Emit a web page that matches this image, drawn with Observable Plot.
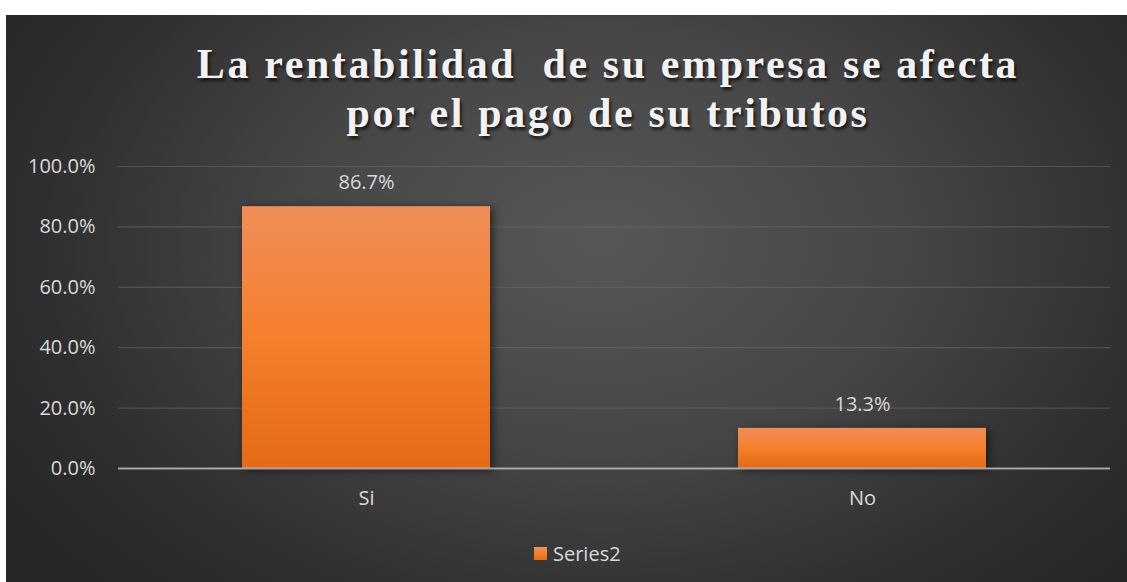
<!DOCTYPE html>
<html>
<head>
<meta charset="utf-8">
<script src="https://cdn.jsdelivr.net/npm/d3@7"></script>
<script src="https://cdn.jsdelivr.net/npm/@observablehq/plot@0.6"></script>
<style>
  html, body { margin: 0; padding: 0; background: #ffffff; }
  #wrap { position: relative; width: 1127px; height: 582px; overflow: hidden; }
  #bg { position: absolute; left: 6px; top: 15px; width: 1121px; height: 567px;
        background: radial-gradient(ellipse 62% 85% at 53% 40%, #575757 0%, #454545 45%, #2f2f2f 80%, #272727 100%); }
  .title { position: absolute; left: 0; width: 1216px; text-align: center;
           font-family: "Liberation Serif", "Times New Roman", serif; font-weight: bold;
           font-size: 42px; line-height: 49px; letter-spacing: 2.6px; color: #f2f2f2;
           text-shadow: 2px 3px 3px rgba(0,0,0,0.65); white-space: pre; }
  #chart { position: absolute; left: 0; top: 145px; }
  #legend { position: absolute; left: 534px; top: 539px; height: 28px; display: flex; align-items: center;
            font-family: "Open Sans", sans-serif; font-size: 20px; color: #d9d9d9; }
  #legend .sw { width: 13px; height: 13px; margin-right: 6px;
                background: linear-gradient(#f0915a, #f47f2c 50%, #e46c1a); }
</style>
</head>
<body>
<div id="wrap">
  <div id="bg"></div>
  <div class="title" style="top:40px">La rentabilidad  de su empresa se afecta</div>
  <div class="title" style="top:89px">por el pago de su tributos</div>
  <div id="chart"></div>
  <div id="legend"><div class="sw"></div><span>Series2</span></div>
</div>
<script>
const categories = ["Si", "No"];
const values = [0.867, 0.133];
const yTicks = [0, 0.2, 0.4, 0.6, 0.8, 1.0];
const seriesName = "Series2";

const data = categories.map((c, i) => ({category: c, value: values[i]}));
const fmt = d => (d * 100).toFixed(1) + "%";

const chart = Plot.plot({
  width: 1127,
  height: 380,
  marginLeft: 118,
  marginRight: 17,
  marginTop: 21,
  marginBottom: 57,
  style: {background: "transparent", fontFamily: "Open Sans, sans-serif", fontSize: "20px", color: "#d9d9d9", overflow: "visible"},
  x: {domain: categories, paddingInner: 0.5, paddingOuter: 0.25},
  y: {domain: [0, 1]},
  marks: [
    Plot.gridY(yTicks, {stroke: "#6a6a6a", strokeOpacity: 0.55, strokeWidth: 1.2}),
    Plot.axisY(yTicks, {tickSize: 0, tickPadding: 23, tickFormat: fmt, label: null, fill: "#d9d9d9", fontSize: 20}),
    Plot.axisX({tickSize: 0, tickPadding: 22, label: null, fill: "#d9d9d9", fontSize: 20}),
    Plot.barY(data, {x: "category", y: "value", fill: "#f47f2c", className: "bars"}),
    Plot.ruleY([0], {stroke: "#c8c8c8", strokeOpacity: 0.75, strokeWidth: 2}),
    Plot.text(data, {x: "category", y: "value", text: d => fmt(d.value), dy: -24, fill: "#d9d9d9", fontSize: 20, lineAnchor: "middle"})
  ]
});

// gradient for bars
const ns = "http://www.w3.org/2000/svg";
const defs = document.createElementNS(ns, "defs");
defs.innerHTML = `<linearGradient id="barGrad" x1="0" y1="0" x2="0" y2="1">
  <stop offset="0" stop-color="#f08d58"/>
  <stop offset="0.5" stop-color="#f47f2c"/>
  <stop offset="1" stop-color="#e46a17"/>
</linearGradient>`;
chart.insertBefore(defs, chart.firstChild);
const barG = chart.querySelector('g[aria-label="bar"]');
if (barG) {
  barG.setAttribute("fill", "url(#barGrad)");
  barG.querySelectorAll("rect").forEach(r => r.setAttribute("fill", "url(#barGrad)"));
  barG.setAttribute("style", "filter: drop-shadow(3px 2px 4px rgba(0,0,0,0.55))");
}
document.getElementById("chart").appendChild(chart);
</script>
</body>
</html>
